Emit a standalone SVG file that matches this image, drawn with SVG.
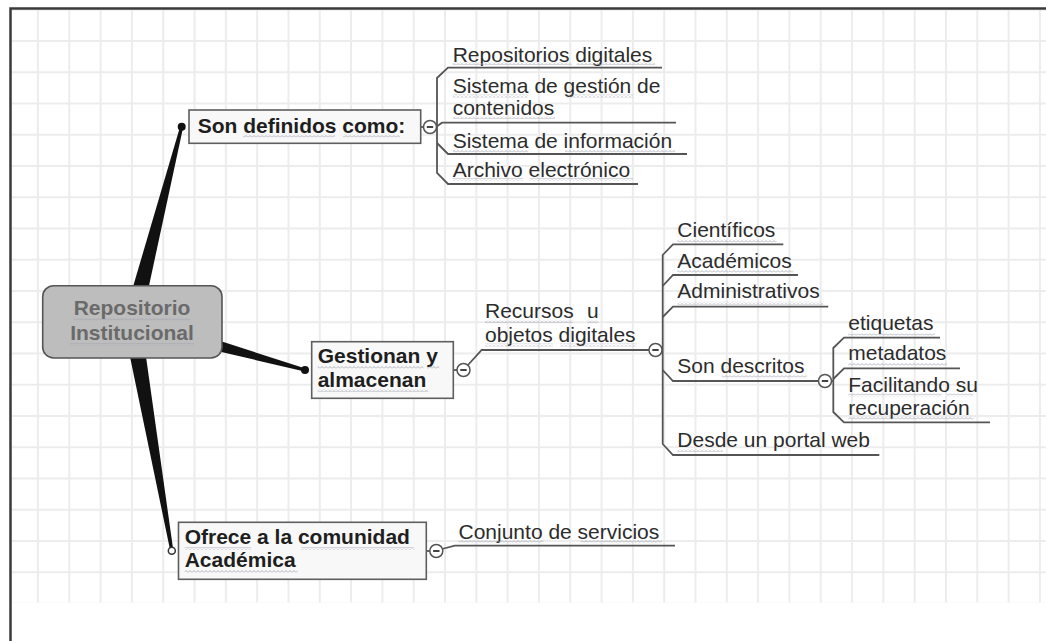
<svg xmlns="http://www.w3.org/2000/svg" xmlns:xlink="http://www.w3.org/1999/xlink" width="1046" height="641" viewBox="0 0 1046 641">
<style>
.b{font-family:"Liberation Sans",Arial,sans-serif;font-weight:bold;font-size:21px;fill:#1e1e1e}
.r{font-family:"Liberation Sans",Arial,sans-serif;font-size:21px;fill:#2c2c2c}
.c{font-family:"Liberation Sans",Arial,sans-serif;font-weight:bold;font-size:21px;fill:#6a6a6a;text-anchor:middle}
.box{fill:#f8f8f8;stroke:#5e5e5e;stroke-width:1.6}
.ln{fill:none;stroke:#555;stroke-width:1.8}
.wedge{fill:#111}
.sq{fill:url(#sq)}
</style>
<defs>
<pattern id="grid" x="37" y="40" width="31.31" height="31.25" patternUnits="userSpaceOnUse">
<rect width="2" height="31.25" fill="#ececec"/><rect width="31.31" height="2" fill="#ececec"/>
</pattern>
<pattern id="sq" x="0" y="0" width="4" height="3" patternUnits="userSpaceOnUse">
<path d="M0 2.5 L2 0.5 L4 2.5" fill="none" stroke="#9aa0ae" stroke-width="0.8"/>
</pattern>
<g id="tog"><circle r="6.5" fill="#fff" stroke="#555" stroke-width="1.5"/><path d="M-3.2 0 H3.2" stroke="#444" stroke-width="2"/></g>
</defs>
<rect width="1046" height="641" fill="#fff"/>
<rect x="11" y="9.5" width="1035" height="593" fill="url(#grid)"/>
<path d="M10.5 641 V8.5 H1046" fill="none" stroke="#3a3a3a" stroke-width="2.5"/>

<g id="connectors">
<path class="wedge" d="M123.3 319.8 L180.2 126.3 L183.2 127.1 L140.7 324.2 Z"/>
<path class="wedge" d="M134.4 313.3 L305.4 368.6 L304.6 371.4 L129.6 330.7 Z"/>
<path class="wedge" d="M140.9 320.5 L173.3 550.4 L170.3 551.0 L123.1 323.5 Z"/>
<circle cx="181.7" cy="126.7" r="4" fill="#111"/>
<circle cx="305" cy="370" r="4" fill="#111"/>
<circle cx="171.8" cy="550.7" r="3.5" fill="#fff" stroke="#333" stroke-width="1.5"/>
<path class="ln" d="M420.7 127 H424"/>
<path class="ln" d="M662 67.7 H448 L437 78 V173 L448 184 H638"/>
<path class="ln" d="M436 127 L442 122.7 H676"/>
<path class="ln" d="M437 143 L448 154 H687"/>
<path class="ln" d="M453.3 370 H457.5"/>
<path class="ln" d="M467.5 365.5 L481.7 350 H649.5"/>
<path class="ln" d="M783.3 244.3 H673 L662.7 255 V444 L673 455 H879.3"/>
<path class="ln" d="M662.7 286 L673 275 H798"/>
<path class="ln" d="M662.7 317 L673 306.7 H828.3"/>
<path class="ln" d="M661.5 350 H662.7"/>
<path class="ln" d="M662.7 370 L673 381 H819"/>
<path class="ln" d="M940 337.7 H844 L833.3 348 V412 L844 422.3 H990"/>
<path class="ln" d="M833.3 379 L844 368.3 H960"/>
<path class="ln" d="M831 381 H833.3"/>
<path class="ln" d="M426.3 551 H430.3"/>
<path class="ln" d="M442 549 L454.8 545.7 H675"/>
<use xlink:href="#tog" x="430" y="127"/>
<use xlink:href="#tog" x="463.5" y="370"/>
<use xlink:href="#tog" x="655.5" y="350"/>
<use xlink:href="#tog" x="825" y="381"/>
<use xlink:href="#tog" x="436.3" y="551"/>
</g>

<g id="node-central">
<rect x="42.7" y="285.7" width="179.3" height="72.3" rx="11" fill="#bdbdbd" stroke="#555" stroke-width="1.6"/>
<text class="c" x="132" y="315">Repositorio</text>
<text class="c" x="132" y="340">Institucional</text>
<rect class="sq" x="74" y="318" width="116" height="3"/>
<rect class="sq" x="70" y="343" width="124" height="3"/>
</g>

<g id="node-son-definidos">
<rect class="box" x="189" y="110" width="231.7" height="33.3"/>
<text class="b" x="197.7" y="132.7">Son definidos como:</text>
<rect class="sq" x="243" y="134.5" width="92" height="3"/>
<rect class="sq" x="343" y="134.5" width="57" height="3"/>
</g>

<g id="node-gestionan">
<rect class="box" x="311.7" y="341.7" width="141.6" height="56.6"/>
<text class="b" x="317.7" y="363.3">Gestionan y</text>
<text class="b" x="317.7" y="387.3">almacenan</text>
<rect class="sq" x="317.7" y="366" width="105.6" height="3"/>
<rect class="sq" x="426.7" y="366" width="12.6" height="3"/>
<rect class="sq" x="317.7" y="389" width="110.6" height="3"/>
</g>

<g id="node-ofrece">
<rect class="box" x="178.5" y="522.3" width="247.8" height="57"/>
<text class="b" x="184.7" y="544">Ofrece a la comunidad</text>
<text class="b" x="184.7" y="567.3">Académica</text>
<rect class="sq" x="184.7" y="547" width="66.6" height="3"/>
<rect class="sq" x="301.3" y="547" width="112.7" height="3"/>
<rect class="sq" x="184.7" y="570" width="112.9" height="3"/>
</g>

<g id="leaf-repositorios-digitales">
<text class="r" x="452.7" y="61.7">Repositorios digitales</text>
<rect class="sq" x="452.7" y="62" width="119" height="3"/>
<rect class="sq" x="576.7" y="62" width="78.3" height="3"/>
</g>
<g id="leaf-sistema-gestion">
<text class="r" x="452.7" y="93.3">Sistema de gestión de</text>
<text class="r" x="452.7" y="115">contenidos</text>
<rect class="sq" x="452.7" y="94.5" width="75.6" height="3"/>
<rect class="sq" x="566.7" y="94.5" width="66.6" height="3"/>
<rect class="sq" x="452.7" y="116.2" width="102.3" height="3"/>
</g>
<g id="leaf-sistema-informacion">
<text class="r" x="452.7" y="148.3">Sistema de información</text>
<rect class="sq" x="452.7" y="149.5" width="75.6" height="3"/>
<rect class="sq" x="565" y="149.5" width="110" height="3"/>
</g>
<g id="leaf-archivo">
<text class="r" x="452.7" y="176.7">Archivo electrónico</text>
<rect class="sq" x="452.7" y="177.7" width="70.6" height="3"/>
<rect class="sq" x="530" y="177.7" width="103" height="3"/>
</g>

<g id="leaf-recursos">
<text class="r" x="485" y="318.3">Recursos<tspan x="587">u</tspan></text>
<text class="r" x="485" y="341.7">objetos digitales</text>
<rect class="sq" x="485" y="320.2" width="88" height="3"/>
<rect class="sq" x="587" y="320.2" width="11" height="3"/>
<rect class="sq" x="485" y="343.5" width="68" height="3"/>
<rect class="sq" x="560" y="343.5" width="77" height="3"/>
</g>

<g id="leaf-cientificos">
<text class="r" x="677.3" y="236.7">Científicos</text>
<rect class="sq" x="677.3" y="239.5" width="99.4" height="3"/>
</g>
<g id="leaf-academicos">
<text class="r" x="677.3" y="268.3">Académicos</text>
<rect class="sq" x="677.3" y="270.2" width="116" height="3"/>
</g>
<g id="leaf-administrativos">
<text class="r" x="677.3" y="298.3">Administrativos</text>
<rect class="sq" x="677.3" y="301.8" width="146" height="3"/>
</g>
<g id="leaf-son-descritos">
<text class="r" x="677.3" y="373.3">Son descritos</text>
<rect class="sq" x="721.7" y="375.2" width="85" height="3"/>
</g>
<g id="leaf-desde-portal">
<text class="r" x="677.3" y="446.7">Desde un portal web</text>
<rect class="sq" x="677.3" y="449.2" width="45.4" height="3"/>
</g>

<g id="leaf-etiquetas">
<text class="r" x="848.3" y="330">etiquetas</text>
<rect class="sq" x="848.3" y="333.5" width="86.7" height="3"/>
</g>
<g id="leaf-metadatos">
<text class="r" x="848.3" y="360">metadatos</text>
<rect class="sq" x="848.3" y="362.8" width="98.4" height="3"/>
</g>
<g id="leaf-facilitando">
<text class="r" x="848.3" y="391.7">Facilitando su</text>
<text class="r" x="848.3" y="415">recuperación</text>
<rect class="sq" x="848.3" y="393.5" width="93.4" height="3"/>
<rect class="sq" x="946.7" y="393.5" width="26.6" height="3"/>
<rect class="sq" x="848.3" y="416.8" width="125" height="3"/>
</g>

<g id="leaf-conjunto">
<text class="r" x="458.5" y="539">Conjunto de servicios</text>
<rect class="sq" x="458.5" y="540.2" width="85" height="3"/>
<rect class="sq" x="580.6" y="540.2" width="81.4" height="3"/>
</g>
</svg>
